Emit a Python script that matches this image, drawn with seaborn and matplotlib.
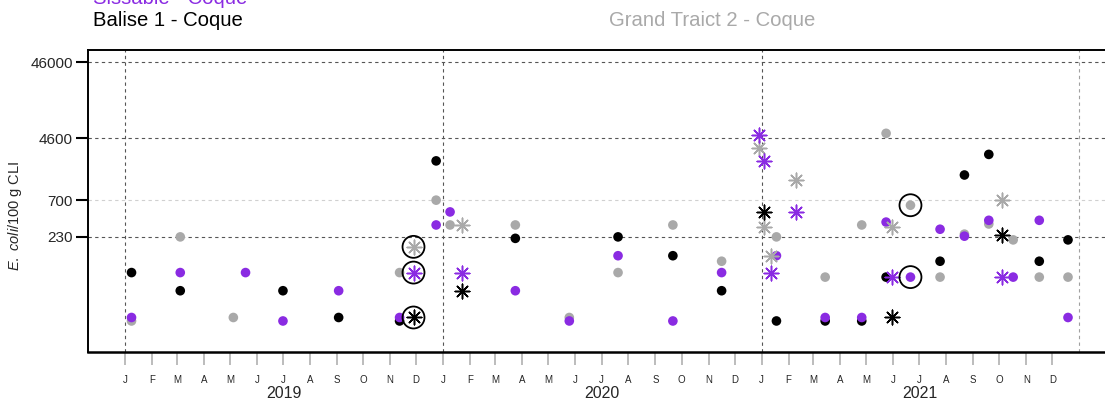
import matplotlib
matplotlib.use("Agg")
import matplotlib.pyplot as plt
import matplotlib.transforms as mtransforms
import pandas as pd
import seaborn as sns

# ---------------- data ----------------
sites = ["Grand Traict 2 - Coque", "Balise 1 - Coque", "Sissable - Coque"]
site_colors = ["#A9A9A9", "#000000", "#8A2BE2"]

# Grand Traict 2 (grey)
gt_dates = ["2019-01-08", "2019-03-05", "2019-05-05", "2019-11-12", "2019-12-24",
            "2020-01-09", "2020-03-24", "2020-05-25", "2020-07-20", "2020-09-21",
            "2020-11-16", "2021-01-18", "2021-03-15", "2021-04-26", "2021-05-24",
            "2021-06-21", "2021-07-25", "2021-08-22", "2021-09-19", "2021-10-17",
            "2021-11-16", "2021-12-19",
            "2019-11-28", "2020-01-23", "2020-12-29", "2021-01-04", "2021-01-12",
            "2021-02-09", "2021-05-31", "2021-10-04"]
gt_values = [18, 230, 20, 78, 700,
             330, 330, 20, 78, 330,
             110, 230, 68, 330, 5300,
             600, 68, 250, 340, 210,
             68, 68,
             170, 330, 3400, 310, 130,
             1300, 310, 700]
gt_kind = ["routine"] * 22 + ["alerte"] * 8

# Balise 1 (black)
b1_dates = ["2019-01-08", "2019-03-05", "2019-07-01", "2019-09-03", "2019-11-12",
            "2019-12-24", "2020-03-24", "2020-07-20", "2020-09-21", "2020-11-16",
            "2021-01-18", "2021-03-15", "2021-04-26", "2021-05-24", "2021-07-25",
            "2021-08-22", "2021-09-19", "2021-11-16", "2021-12-19",
            "2019-11-28", "2020-01-23", "2021-01-04", "2021-05-31", "2021-10-04"]
b1_values = [78, 45, 45, 20, 18,
             2300, 220, 230, 130, 45,
             18, 18, 18, 68, 110,
             1500, 2800, 110, 210,
             20, 45, 490, 20, 240]
b1_kind = ["routine"] * 19 + ["alerte"] * 5

# Sissable (purple)
si_dates = ["2019-01-08", "2019-03-05", "2019-05-19", "2019-07-01", "2019-09-03",
            "2019-11-12", "2019-12-24", "2020-01-09", "2020-03-24", "2020-05-25",
            "2020-07-20", "2020-09-21", "2020-11-16", "2021-01-18", "2021-03-15",
            "2021-04-26", "2021-05-24", "2021-06-21", "2021-07-25", "2021-08-22",
            "2021-09-19", "2021-10-17", "2021-11-16", "2021-12-19",
            "2019-11-28", "2020-01-23", "2020-12-29", "2021-01-04", "2021-01-12",
            "2021-02-09", "2021-05-31", "2021-10-04"]
si_values = [20, 78, 78, 18, 45,
             20, 330, 490, 45, 18,
             130, 18, 78, 130, 20,
             20, 360, 68, 290, 235,
             380, 68, 380, 20,
             78, 78, 5000, 2300, 78,
             490, 68, 68]
si_kind = ["routine"] * 24 + ["alerte"] * 8

# circled results (site, date)
circled_sites = ["Grand Traict 2 - Coque", "Sissable - Coque", "Balise 1 - Coque",
                 "Grand Traict 2 - Coque", "Sissable - Coque"]
circled_dates = ["2019-11-28", "2019-11-28", "2019-11-28", "2021-06-21", "2021-06-21"]

y_ticks = [230, 700, 4600, 46000]
year_labels = ["2019", "2020", "2021"]

# ---------------- build table ----------------
frames = []
for s, d, v, k in [(sites[0], gt_dates, gt_values, gt_kind),
                   (sites[1], b1_dates, b1_values, b1_kind),
                   (sites[2], si_dates, si_values, si_kind)]:
    frames.append(pd.DataFrame({"site": s, "date": pd.to_datetime(d), "value": v, "kind": k}))
df = pd.concat(frames, ignore_index=True)
palette = dict(zip(sites, site_colors))

circ = pd.DataFrame({"site": circled_sites, "date": pd.to_datetime(circled_dates)})
circ = circ.merge(df, on=["site", "date"], how="left")

# ---------------- style ----------------
sns.set_style("white")
plt.rcParams["font.family"] = ["Liberation Sans", "DejaVu Sans"]
plt.rcParams["mathtext.fontset"] = "custom"
plt.rcParams["mathtext.it"] = "Liberation Sans:italic"
plt.rcParams["mathtext.rm"] = "Liberation Sans"

W, H = 1105, 400
fig = plt.figure(figsize=(W / 100, H / 100), dpi=100)
ax_left, ax_right, ax_top, ax_bottom = 88, 1115, 50, 352
ax = fig.add_axes([ax_left / W, (H - ax_bottom) / H,
                   (ax_right - ax_left) / W, (ax_bottom - ax_top) / H])

# grid lines
grid_kw = dict(linestyle=(0, (3, 3)), linewidth=0.8, zorder=0)
for v in [230, 4600, 46000]:
    ax.axhline(v, color="#555555", **grid_kw)
ax.axhline(700, color="#d0d0d0", **grid_kw)
for yr in ["2019-01-01", "2020-01-01", "2021-01-01"]:
    ax.axvline(pd.Timestamp(yr), color="#555555", **grid_kw)
ax.axvline(pd.Timestamp("2022-01-01"), color="#a0a0a0", **grid_kw)

# routine samples: filled dots
sns.scatterplot(data=df[df["kind"] == "routine"], x="date", y="value", hue="site",
                palette=palette, marker="o", s=48, linewidth=0, ax=ax,
                legend=False, zorder=3)
# alert samples: asterisks
alert = df[df["kind"] == "alerte"]
for s in sites:
    sub = alert[alert["site"] == s]
    sns.scatterplot(data=sub, x="date", y="value", color=palette[s],
                    marker=(8, 2, 0), s=110, linewidth=1.1, ax=ax,
                    legend=False, zorder=4)
# circled results
sns.scatterplot(data=circ, x="date", y="value", marker="o", s=250,
                facecolor="none", edgecolor="black", linewidth=1.3,
                ax=ax, legend=False, zorder=5)

# axes scales
ax.set_yscale("log")
ax.set_ylim(7.03, 66200)
ax.set_xlim(pd.Timestamp("2018-11-19"), pd.Timestamp("2022-02-11"))
ax.set_yticks(y_ticks)
ax.set_yticklabels([str(v) for v in y_ticks], fontsize=11)
ax.yaxis.set_minor_locator(matplotlib.ticker.NullLocator())
ax.tick_params(axis="y", which="major", direction="out", length=9, width=1.5,
               color="black", left=True, pad=2)

months = pd.date_range("2019-01-01", "2021-12-01", freq="MS")
ax.set_xticks(months)
ax.set_xticklabels([m.strftime("%b")[0] for m in months], fontsize=7)
ax.xaxis.set_minor_locator(matplotlib.ticker.NullLocator())
ax.tick_params(axis="x", which="major", direction="out", length=9, width=1.2,
               color="#b0b0b0", bottom=True, pad=7.5)

for sp in ["left", "top", "bottom"]:
    ax.spines[sp].set_color("black")
    ax.spines[sp].set_linewidth(1.4)
ax.spines["bottom"].set_linewidth(1.8)
ax.spines["right"].set_visible(False)

ax.set_xlabel("")
ax.set_ylabel(r"$\it{E.\ coli}$/100 g CLI", fontsize=10.5)
ax_w = ax_right - ax_left
ax.yaxis.set_label_coords((24 - ax_left) / ax_w, (ax_bottom - 216) / (ax_bottom - ax_top))

# year labels
trans = mtransforms.blended_transform_factory(ax.transData, ax.transAxes)
for y in year_labels:
    ax.text(pd.Timestamp(f"{y}-07-02"), (ax_bottom - 394) / (ax_bottom - ax_top), y,
            transform=trans, ha="center", va="center", fontsize=11.5)

# header texts
fig.text(93 / W, 1 - 4 / H, "Sissable - Coque", color=site_colors[2],
         ha="left", va="baseline", fontsize=14.6)
fig.text(93 / W, 1 - 26 / H, "Balise 1 - Coque", color="black",
         ha="left", va="baseline", fontsize=14.6)
fig.text(609 / W, 1 - 26 / H, "Grand Traict 2 - Coque", color="#A9A9A9",
         ha="left", va="baseline", fontsize=14.6)

fig.savefig("out.png", dpi=100)
